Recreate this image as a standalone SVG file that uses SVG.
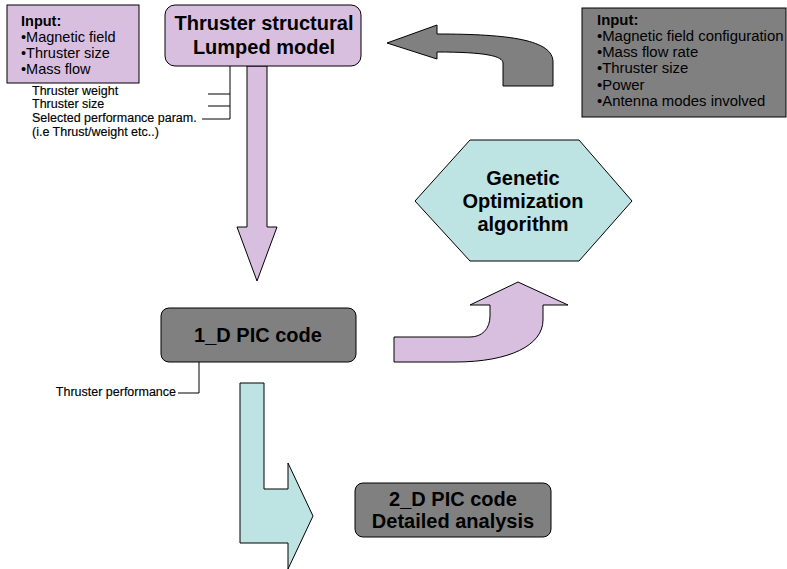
<svg xmlns="http://www.w3.org/2000/svg" width="787" height="569" viewBox="0 0 787 569">
<style>
.pur{fill:#d8bfe0;stroke:#000;stroke-width:1}
.gry{fill:#808080;stroke:#000;stroke-width:1}
.cyn{fill:#bee3e3;stroke:#000;stroke-width:1}
.ln{fill:none;stroke:#000;stroke-width:1}
.t{font-family:"Liberation Sans",Arial,Helvetica,sans-serif;fill:#000}
.in{font-size:14.5px}
.inr{font-size:14.9px}
.b{font-weight:bold}
.big{font-size:20px;font-weight:bold;text-anchor:middle}
.sm{font-size:12.5px;stroke:#000;stroke-width:0.15}
</style>
<rect width="787" height="569" fill="#fff"/>
<g id="connectors">
  <path class="pur" d="M247,66 L267,66 L267,227 L277,227 L257,281 L237,227 L247,227 Z"/>
  <path class="gry" d="M387,43 L437,25 L437,34 C510,34 553,40 553,62 L553,86 L503,86 L503,63 C503,56 485,52 437,52 L437,59 Z"/>
  <path class="pur" d="M518,282 L568,305 L543,305 L543,320 C543,345 510,362 455,362 L394,362 L394,337 L470,337 C482,337 490,329 490,316 L490,305 L470,305 Z"/>
  <path class="cyn" d="M240,383 L264,383 L264,489 L288,489 L288,463 L313,516 L288,569 L288,543 L240,543 Z"/>
  <path class="ln" d="M230,66 L230,119 M208,94 L230,94 M208,106 L230,106 M202,119 L230,119"/>
  <path class="ln" d="M199,362 L199,393 L178,393"/>
</g>
<g id="labels">
  <text class="t sm" x="32" y="95">Thruster weight</text>
  <text class="t sm" x="32" y="108">Thruster size</text>
  <text class="t sm" x="32" y="122">Selected performance param.</text>
  <text class="t sm" x="32" y="136">(i.e Thrust/weight etc..)</text>
  <text class="t sm" x="176" y="396" text-anchor="end">Thruster performance</text>
</g>
<g id="input-left">
  <rect class="pur" x="7" y="5" width="132" height="78"/>
  <text class="t in b" x="21" y="26">Input:</text>
  <text class="t in" x="21" y="42">•Magnetic field</text>
  <text class="t in" x="21" y="58">•Thruster size</text>
  <text class="t in" x="21" y="74">•Mass flow</text>
</g>
<g id="thruster-structural">
  <rect class="pur" x="165" y="5" width="196" height="61" rx="10"/>
  <text class="t big" x="264" y="30">Thruster structural</text>
  <text class="t big" x="264" y="54">Lumped model</text>
</g>
<g id="input-right">
  <rect class="gry" x="582" y="8" width="204" height="109"/>
  <text class="t inr b" x="597" y="25">Input:</text>
  <text class="t inr" x="597" y="41">•Magnetic field configuration</text>
  <text class="t inr" x="597" y="57">•Mass flow rate</text>
  <text class="t inr" x="597" y="73">•Thruster size</text>
  <text class="t inr" x="597" y="90">•Power</text>
  <text class="t inr" x="597" y="106">•Antenna modes involved</text>
</g>
<g id="genetic">
  <polygon class="cyn" points="415,201 470,140 579,140 632,201 579,261 470,261"/>
  <text class="t big" x="523" y="185">Genetic</text>
  <text class="t big" x="523" y="208">Optimization</text>
  <text class="t big" x="523" y="231">algorithm</text>
</g>
<g id="pic1d">
  <rect class="gry" x="161" y="308" width="195" height="54" rx="8"/>
  <text class="t big" x="258" y="342">1_D PIC code</text>
</g>
<g id="pic2d">
  <rect class="gry" x="355" y="483" width="196" height="54" rx="8"/>
  <text class="t big" x="453" y="506">2_D PIC code</text>
  <text class="t big" x="453" y="528">Detailed analysis</text>
</g>
</svg>
